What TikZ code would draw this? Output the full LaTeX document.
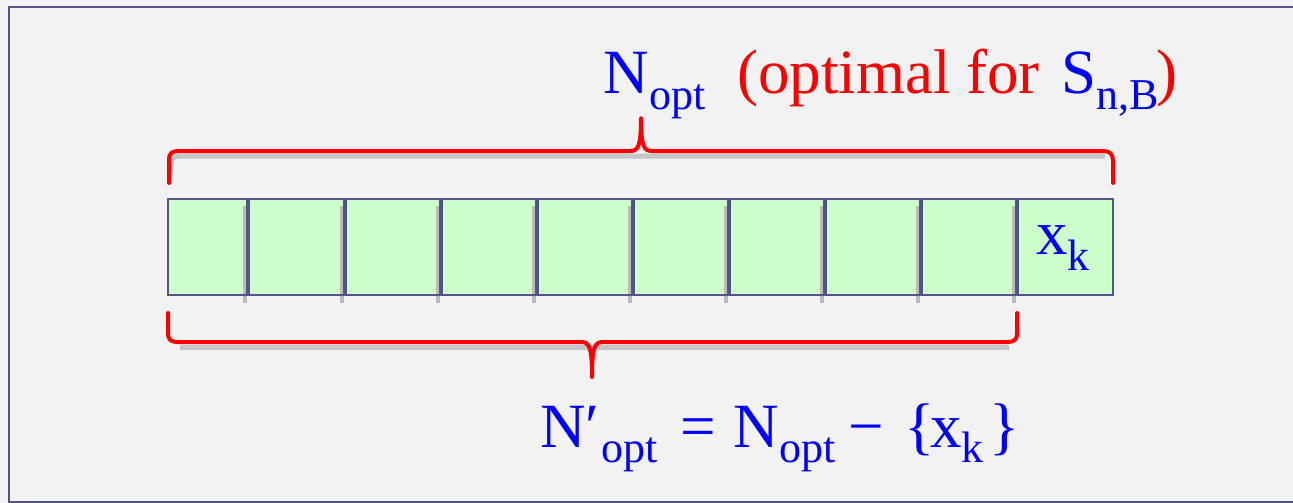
\documentclass[tikz,border=0pt]{standalone}
\usepackage{fontspec}
\setmainfont{Liberation Serif}
\definecolor{bgc}{HTML}{F2F2F2}
\definecolor{framec}{HTML}{545488}
\definecolor{cellc}{HTML}{CCFFCC}
\definecolor{shadc}{HTML}{BBBBBB}
\definecolor{tblue}{HTML}{0000FF}
\definecolor{tred}{HTML}{FF0000}
\tikzset{
  big/.style={inner sep=0pt, anchor=base west, font=\fontsize{63}{63}\selectfont},
  small/.style={inner sep=0pt, anchor=base west, font=\fontsize{44}{44}\selectfont},
  bracepath/.style={draw=tred, line width=4pt, line join=round, line cap=round},
  braceshadow/.style={draw=shadc, line width=5pt, opacity=0.8},
}
\begin{document}
\begin{tikzpicture}[x=1pt,y=-1pt]
\useasboundingbox (0,0) rectangle (1293,503);
\fill[bgc] (0,0) rectangle (1293,503);
% frame
\draw[framec, line width=2.6pt] (1294,7) -- (9,7) -- (9,502) -- (1294,502);
% cells
\fill[cellc] (168,199) rectangle (1113,295);
\foreach \d in {248,345,441,537,633,729,825,921,1017}{
  \draw[shadc, line width=3.5pt] (\d-3,206) -- (\d-3,303);
}
\foreach \d in {248,345,441,537,633,729,825,921,1017}{
  \draw[framec, line width=3.6pt] (\d,199) -- (\d,295);
}
\draw[framec, line width=2.6pt] (168,199) rectangle (1113,295);
\node[big, text=tblue] (xk) at (1036,254) {x};
\node[small, text=tblue] (xksub) at (1067,270) {k};
% top brace
\coordinate (tl) at (169,183);
\coordinate (tr) at (1113,183);
\coordinate (tt) at (641,118);
\draw[braceshadow, shift={(2,5)}] (tl) -- (169,160) .. controls (169,153) and (172,151) .. (179,151) -- (1103,151);
\draw[bracepath] (tl) -- (169,160) .. controls (169,153) and (172,151) .. (179,151) -- (630,151)
  .. controls (638,151) and (641,147) .. (tt) .. controls (641,147) and (644,151) .. (652,151)
  -- (1103,151) .. controls (1110,151) and (1113,154) .. (1113,161) -- (tr);
% bottom brace
\coordinate (bl) at (168,313);
\coordinate (br) at (1017,313);
\coordinate (bt) at (592,377);
\draw[braceshadow, shift={(2,5)}] (178,342) -- (1007,342);
\draw[bracepath] (bl) -- (168,333) .. controls (168,340) and (171,342) .. (178,342) -- (581,342)
  .. controls (589,342) and (592,346) .. (bt) .. controls (592,346) and (595,342) .. (603,342)
  -- (1007,342) .. controls (1014,342) and (1017,340) .. (1017,333) -- (br);
% top label
\node[big, text=tblue] (n1) at (603,93) {N};
\node[small, text=tblue] (n1s) at (649,110) {opt};
\node[big, text=tred] (opt) at (737,93) {(optimal for};
\node[big, text=tblue] (s1) at (1061,93) {S};
\node[small, text=tblue] (s1s) at (1096,110) {n,B};
\node[big, text=tred] (rp) at (1156,93) {)};
% bottom label
\node[big, text=tblue] (n2) at (540,447) {N′};
\node[small, text=tblue] (n2s) at (601,462) {opt};
\node[big, text=tblue] (eq) at (680,447) {=};
\node[big, text=tblue] (n3) at (733,447) {N};
\node[small, text=tblue] (n3s) at (779,462) {opt};
\node[big, text=tblue] (mi) at (848,447) {−};
\node[big, text=tblue] (lb) at (904,447) {\{};
\node[big, text=tblue] (x2) at (930,447) {x};
\node[small, text=tblue] (x2s) at (961,462) {k};
\node[big, text=tblue] (rb) at (989,447) {\}};
\end{tikzpicture}
\end{document}
